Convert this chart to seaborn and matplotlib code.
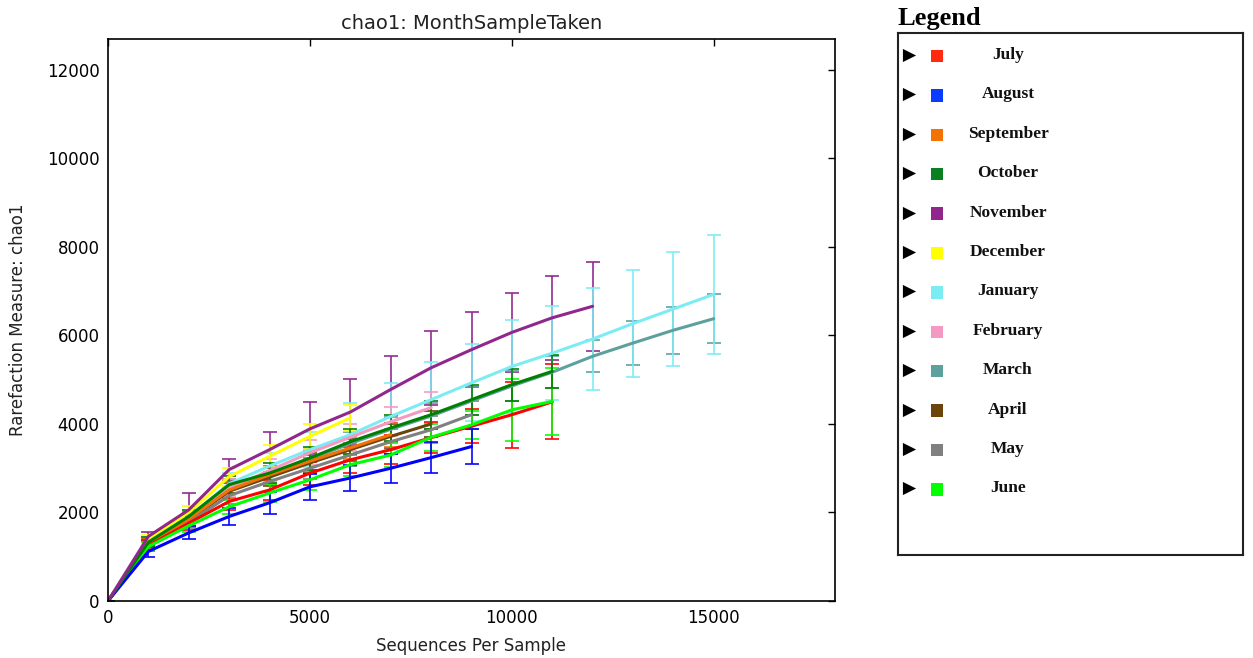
import numpy as np
import pandas as pd
import matplotlib
matplotlib.use("Agg")
import matplotlib.pyplot as plt
import seaborn as sns

# ---------------- data ----------------
months = ["July", "August", "September", "October", "November", "December",
          "January", "February", "March", "April", "May", "June"]
colors = ["#ff0000", "#0000ff", "#f27304", "#008000", "#91278d", "#ffff00",
          "#7cecf4", "#f49ac2", "#5da09e", "#6b440b", "#808080", "#00ff00"]
legend_colors = ["#ff2a10", "#0a3cff", "#f27304", "#0a8020", "#91278d", "#ffff00",
                 "#7cecf4", "#f49ac2", "#5da09e", "#6b440b", "#808080", "#00ff00"]

july_y = [0, 1250, 1760, 2250, 2510, 2890, 3190, 3420, 3690, 3950, 4210, 4500]
july_e = [0, 120, 160, 200, 230, 260, 290, 320, 350, 380, 750, 850]
august_y = [0, 1120, 1540, 1910, 2220, 2580, 2780, 3000, 3240, 3490]
august_e = [0, 120, 150, 200, 250, 300, 300, 330, 350, 400]
september_y = [0, 1300, 1850, 2510, 2850, 3160, 3460, 3760]
september_e = [0, 100, 150, 180, 200, 220, 250, 270]
october_y = [0, 1330, 1910, 2630, 2890, 3230, 3600, 3910, 4210, 4550, 4890, 5190]
october_e = [0, 110, 150, 200, 230, 260, 280, 300, 320, 340, 360, 380]
november_y = [0, 1460, 2060, 2970, 3420, 3890, 4270, 4780, 5270, 5680, 6070, 6400, 6660]
november_e = [0, 100, 380, 250, 400, 600, 750, 750, 830, 850, 900, 950, 1000]
december_y = [0, 1400, 2000, 2810, 3270, 3720, 4140]
december_e = [0, 100, 150, 200, 250, 280, 300]
january_y = [0, 1350, 1900, 2650, 3050, 3420, 3760, 4170, 4550, 4930, 5300, 5600,
             5920, 6270, 6600, 6930]
january_e = [0, 100, 150, 250, 300, 400, 720, 760, 840, 870, 1060, 1060,
             1150, 1200, 1280, 1350]
february_y = [0, 1300, 1850, 2550, 2950, 3350, 3700, 4050, 4370]
february_e = [0, 100, 150, 200, 250, 280, 300, 330, 350]
march_y = [0, 1320, 1880, 2580, 2850, 3200, 3560, 3880, 4180, 4520, 4860, 5170,
           5530, 5830, 6120, 6380]
march_e = [0, 100, 150, 180, 200, 230, 260, 280, 300, 320, 340, 360,
           360, 500, 530, 550]
april_y = [0, 1290, 1830, 2480, 2800, 3120, 3420, 3720, 4000]
april_e = [0, 100, 140, 180, 200, 230, 250, 270, 290]
may_y = [0, 1270, 1780, 2380, 2700, 3000, 3300, 3600, 3870, 4210]
may_e = [0, 100, 140, 180, 210, 240, 260, 280, 300, 320]
june_y = [0, 1230, 1700, 2130, 2440, 2740, 3080, 3300, 3700, 3980, 4320, 4510]
june_e = [0, 100, 130, 160, 200, 230, 250, 280, 300, 320, 700, 750]

series_y = [july_y, august_y, september_y, october_y, november_y, december_y,
            january_y, february_y, march_y, april_y, may_y, june_y]
series_e = [july_e, august_e, september_e, october_e, november_e, december_e,
            january_e, february_e, march_e, april_e, may_e, june_e]
step = 1000

x_ticks = [0, 5000, 10000, 15000]
y_ticks = [0, 2000, 4000, 6000, 8000, 10000, 12000]

rows = []
for m, ys, es in zip(months, series_y, series_e):
    for i, (v, e) in enumerate(zip(ys, es)):
        rows.append({"month": m, "seqs": i * step, "chao1": v, "err": e})
df = pd.DataFrame(rows)

# ---------------- figure ----------------
sns.set_theme(style="white")
plt.rcParams["font.family"] = ["DejaVu Sans"]

W, H = 1253, 658
fig = plt.figure(figsize=(W / 100, H / 100), dpi=100)
ax = fig.add_axes([108 / W, 1 - 601 / H, (835 - 108) / W, (601 - 39) / H])

pal = dict(zip(months, colors))
err_order = ["November", "March", "January", "February", "April", "May", "September",
             "December", "July", "June", "August", "October"]
line_order = ["January", "March", "February", "April", "May", "September",
              "December", "July", "June", "August", "October", "November"]
for m in err_order:
    sub = df[df["month"] == m]
    ax.errorbar(sub["seqs"], sub["chao1"], yerr=sub["err"], fmt="none",
                ecolor=pal[m], elinewidth=1.3, capsize=5, capthick=1.3, alpha=0.9)
for m in line_order:
    sub = df[df["month"] == m]
    sns.lineplot(data=sub, x="seqs", y="chao1", color=pal[m], linewidth=2.2,
                 ax=ax, legend=False, estimator=None, sort=False)

ax.set_xlim(0, 18000)
ax.set_ylim(0, 12700)
ax.set_xticks(x_ticks)
ax.set_yticks(y_ticks)
ax.tick_params(direction="in", length=5, width=1, colors="black",
               top=True, right=True, labelsize=12, pad=6)
for s in ax.spines.values():
    s.set_color("black")
    s.set_linewidth(1.2)
    s.set_visible(True)
ax.set_xlabel("Sequences Per Sample", fontsize=12, color="#222222", labelpad=7)
ax.set_ylabel("Rarefaction Measure: chao1", fontsize=12, color="#222222", labelpad=14)
ax.set_title("chao1: MonthSampleTaken", fontsize=14, color="#222222", pad=7)

# ---------------- legend panel ----------------
fig.text(898 / W, 1 - 18 / H, "Legend", fontsize=19, fontweight="bold",
         family="Liberation Serif", va="center", ha="left", color="black")
lax = fig.add_axes([898 / W, 1 - 555 / H, (1243 - 898) / W, (555 - 33) / H])
lax.set_xlim(0, 345)
lax.set_ylim(522, 0)
lax.set_xticks([])
lax.set_yticks([])
for s in lax.spines.values():
    s.set_color("#222222")
    s.set_linewidth(1.5)
    s.set_visible(True)
row_y = 22 + 39.4 * np.arange(len(months))
lax.scatter(np.full(len(months), 11), row_y, marker=">", s=90, color="black",
            linewidths=0)
lax.scatter(np.full(len(months), 39), row_y + 1, marker="s", s=80,
            color=legend_colors, linewidths=0)
for yv, m in zip(row_y, months):
    lax.text(110, yv, m, fontsize=12.5, fontweight="bold", family="Liberation Serif",
             ha="center", va="center", color="#111111")

fig.savefig("out.png", dpi=100, facecolor="white")
